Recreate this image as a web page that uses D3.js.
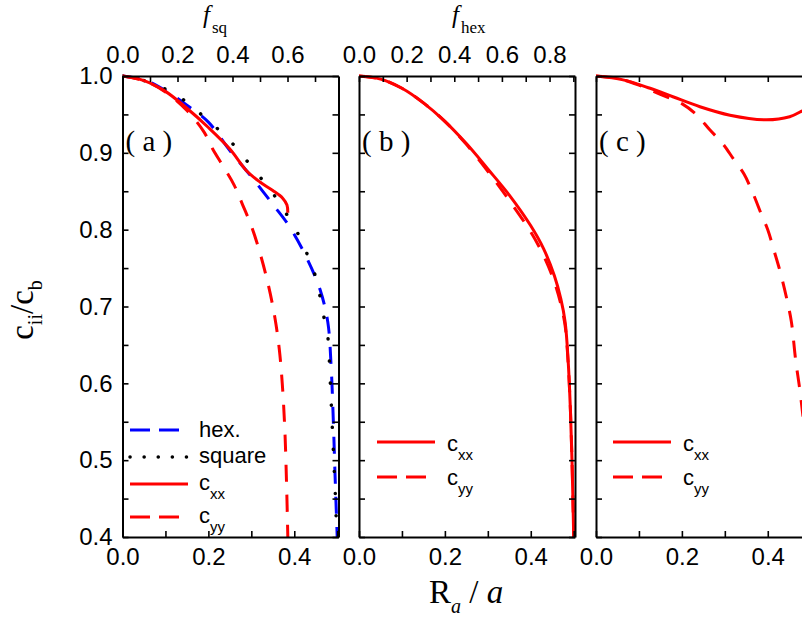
<!DOCTYPE html>
<html>
<head>
<meta charset="utf-8">
<script src="https://cdn.jsdelivr.net/npm/d3@7"></script>
<style>
  body { margin: 0; background: #fff; }
  .tick text { font-family: "Liberation Sans", Arial, sans-serif; font-size: 24px; fill: #000; }
  .serif { font-family: "Liberation Serif", "Times New Roman", serif; }
  .sans { font-family: "Liberation Sans", Arial, sans-serif; }
</style>
</head>
<body>
<div id="chart"></div>
<script>
// size of the picture and the three panels
var width = 802, height = 622;
var panelLeft = [122.5, 359, 596];
var panelWidth = 216;
var plotTop = 76, plotBottom = 537;

// axis ticks
var rTicks = [0, 0.1, 0.2, 0.3, 0.4, 0.5];
var yTicks = [0.4, 0.45, 0.5, 0.55, 0.6, 0.65, 0.7, 0.75, 0.8, 0.85, 0.9, 0.95, 1.0];
var fsqTicks = [0, 0.1, 0.2, 0.3, 0.4, 0.5, 0.6, 0.7];
var fhexTicks = [0, 0.1, 0.2, 0.3, 0.4, 0.5, 0.6, 0.7, 0.8, 0.9];

// panel (a): hexagonal and square lattice
var hexR = [0, 0.05, 0.1, 0.15, 0.2, 0.25, 0.3, 0.35, 0.39, 0.43, 0.46, 0.478, 0.486, 0.491, 0.495, 0.5];
var hexC = [1.0, 0.995, 0.981, 0.962, 0.940, 0.903, 0.869, 0.833, 0.803, 0.762, 0.722, 0.68, 0.62, 0.55, 0.48, 0.4];
var sqR = [0, 0.05, 0.1, 0.127, 0.166, 0.206, 0.245, 0.28, 0.315, 0.348, 0.373, 0.401, 0.42, 0.436, 0.45, 0.459, 0.466, 0.476, 0.48, 0.484, 0.488, 0.492, 0.496, 0.499];
var sqC = [1.0, 0.994, 0.983, 0.975, 0.958, 0.939, 0.919, 0.896, 0.872, 0.849, 0.828, 0.803, 0.781, 0.76, 0.738, 0.716, 0.693, 0.671, 0.647, 0.6, 0.55, 0.5, 0.45, 0.4];
var aXxR = [0, 0.05, 0.1, 0.15, 0.2, 0.25, 0.29, 0.32, 0.35, 0.373, 0.383, 0.385];
var aXxC = [1.0, 0.994, 0.980, 0.958, 0.933, 0.905, 0.876, 0.862, 0.851, 0.841, 0.832, 0.822];
var aYyR = [0, 0.05, 0.1, 0.15, 0.19, 0.21, 0.235, 0.26, 0.28, 0.3, 0.32, 0.34, 0.355, 0.365, 0.372, 0.378, 0.382, 0.385];
var aYyC = [1.0, 0.994, 0.979, 0.955, 0.927, 0.905, 0.882, 0.858, 0.832, 0.805, 0.77, 0.727, 0.685, 0.645, 0.6, 0.54, 0.47, 0.4];

// panel (b)
var bXxR = [0, 0.05, 0.1, 0.15, 0.2, 0.25, 0.3, 0.35, 0.4, 0.43, 0.455, 0.47, 0.48, 0.487, 0.492, 0.496, 0.5];
var bXxC = [1.0, 0.996, 0.984, 0.965, 0.941, 0.912, 0.879, 0.845, 0.805, 0.775, 0.74, 0.71, 0.68, 0.63, 0.57, 0.5, 0.4];
var bYyR = [0, 0.05, 0.1, 0.15, 0.2, 0.25, 0.3, 0.35, 0.4, 0.43, 0.455, 0.47, 0.48, 0.487, 0.492, 0.496, 0.5];
var bYyC = [1.0, 0.996, 0.984, 0.965, 0.941, 0.911, 0.876, 0.838, 0.797, 0.766, 0.732, 0.703, 0.675, 0.627, 0.57, 0.5, 0.4];

// panel (c)
var cXxR = [0, 0.063, 0.126, 0.179, 0.242, 0.312, 0.397, 0.451, 0.478, 0.5];
var cXxC = [1.0, 0.995, 0.984, 0.973, 0.960, 0.949, 0.943, 0.947, 0.954, 0.962];
var cYyR = [0, 0.05, 0.1, 0.15, 0.2, 0.235, 0.265, 0.295, 0.32, 0.345, 0.365, 0.385, 0.4, 0.415, 0.43, 0.445, 0.455, 0.465, 0.475, 0.485, 0.495, 0.5];
var cYyC = [1.0, 0.997, 0.988, 0.976, 0.964, 0.949, 0.930, 0.912, 0.892, 0.872, 0.848, 0.82, 0.80, 0.772, 0.743, 0.708, 0.68, 0.63, 0.59, 0.54, 0.46, 0.4];

var red = "#ff0000", blue = "#0000ff";
var solid = null, dashed = "17,13", dotted = "0.1,22";

function zip(xs, ys) { return xs.map(function (d, i) { return [d, ys[i]]; }); }

var svg = d3.select("#chart").append("svg")
    .attr("width", width).attr("height", height);

var y = d3.scaleLinear().domain([0.4, 1.0]).range([plotBottom, plotTop]);

var panels = [
  { label: "( a )", series: [
      { data: zip(hexR, hexC), color: blue, dash: dashed },
      { data: zip(sqR, sqC), color: "#000", dash: dotted, width: 3.5 },
      { data: zip(aXxR, aXxC), color: red, dash: solid },
      { data: zip(aYyR, aYyC), color: red, dash: dashed } ] },
  { label: "( b )", series: [
      { data: zip(bYyR, bYyC), color: red, dash: dashed },
      { data: zip(bXxR, bXxC), color: red, dash: solid } ] },
  { label: "( c )", series: [
      { data: zip(cYyR, cYyC), color: red, dash: dashed },
      { data: zip(cXxR, cXxC), color: red, dash: solid } ] }
];

function styleAxis(g) {
  g.select(".domain").attr("stroke", "#000").attr("stroke-width", 2);
  g.selectAll(".tick line").attr("stroke", "#000").attr("stroke-width", 1.6);
}

var fmt = d3.format(".1f");
function everyOther(d) { return Math.round(d * 10) % 2 === 0 ? fmt(d) : ""; }

panels.forEach(function (p, i) {
  var L = panelLeft[i];
  var x = d3.scaleLinear().domain([0, 0.503]).range([L, L + panelWidth]);

  svg.append("clipPath").attr("id", "clip" + i)
    .append("rect").attr("x", L).attr("y", plotTop - 2)
    .attr("width", panelWidth).attr("height", plotBottom - plotTop + 4);

  var line = d3.line()
      .x(function (d) { return x(d[0]); })
      .y(function (d) { return y(d[1]); })
      .curve(d3.curveCatmullRom.alpha(0.5));

  var g = svg.append("g").attr("clip-path", "url(#clip" + i + ")");
  p.series.forEach(function (s) {
    g.append("path")
      .attr("d", line(s.data))
      .attr("fill", "none")
      .attr("stroke", s.color)
      .attr("stroke-width", s.width || 3)
      .attr("stroke-linecap", s.dash === dotted ? "round" : "butt")
      .attr("stroke-dasharray", s.dash);
  });

  // bottom axis
  svg.append("g").attr("transform", "translate(0," + plotBottom + ")")
    .call(d3.axisBottom(x).tickValues(rTicks.filter(function (d) { return d <= 0.503; }))
      .tickSize(-6).tickSizeOuter(0).tickPadding(11).tickFormat(everyOther))
    .call(styleAxis);

  // top axis: f_sq, f_hex, or plain ticks
  var top;
  if (i === 0) {
    var fsq = d3.scaleLinear().domain([0, Math.PI / 4]).range([L, L + panelWidth]);
    top = d3.axisTop(fsq).tickValues(fsqTicks).tickFormat(everyOther);
  } else if (i === 1) {
    var fhex = d3.scaleLinear().domain([0, Math.PI / (2 * Math.sqrt(3))]).range([L, L + panelWidth]);
    top = d3.axisTop(fhex).tickValues(fhexTicks).tickFormat(everyOther);
  } else {
    top = d3.axisTop(x).tickValues(rTicks).tickFormat("");
  }
  svg.append("g").attr("transform", "translate(0," + plotTop + ")")
    .call(top.tickSize(-6).tickSizeOuter(0).tickPadding(13))
    .call(styleAxis);

  // left and right axes
  svg.append("g").attr("transform", "translate(" + L + ",0)")
    .call(d3.axisLeft(y).tickValues(yTicks).tickSize(-6).tickSizeOuter(0).tickPadding(10)
      .tickFormat(i === 0 ? function (d) { return Math.round(d * 100) % 10 === 0 ? fmt(d) : ""; } : ""))
    .call(styleAxis);
  svg.append("g").attr("transform", "translate(" + (L + panelWidth) + ",0)")
    .call(d3.axisRight(y).tickValues(yTicks).tickSize(-6).tickSizeOuter(0).tickFormat(""))
    .call(styleAxis);

  // panel label
  svg.append("text").attr("class", "serif")
    .attr("x", L + 3).attr("y", 151)
    .attr("font-size", 29).attr("xml:space", "preserve")
    .text(p.label);
});

// legends
function legendRow(x0, yLine, color, dash, lw, lineLen) {
  svg.append("line")
    .attr("x1", x0).attr("x2", x0 + lineLen)
    .attr("y1", yLine).attr("y2", yLine)
    .attr("stroke", color).attr("stroke-width", lw)
    .attr("stroke-linecap", dash === "0.1,14" ? "round" : "butt")
    .attr("stroke-dasharray", dash);
}
function legendText(x0, base, main, sub) {
  var t = svg.append("text").attr("class", "sans")
    .attr("x", x0).attr("y", base).attr("font-size", 22).text(main);
  if (sub) t.append("tspan").attr("font-size", 15).attr("dy", 9).text(sub);
}

legendRow(130, 430, blue, "20,9", 3, 58);
legendText(199, 437, "hex.");
legendRow(130, 457, "#000", "0.1,14", 3.5, 58);
legendText(199, 463, "square");
legendRow(130, 484, red, null, 3, 58);
legendText(199, 490, "c", "xx");
legendRow(130, 517, red, "20,9", 3, 58);
legendText(199, 523, "c", "yy");

[377, 613].forEach(function (x0) {
  legendRow(x0, 442, red, null, 3, 58);
  legendText(x0 + 70, 451, "c", "xx");
  legendRow(x0, 477, red, "20,9", 3, 58);
  legendText(x0 + 70, 485, "c", "yy");
});

// axis titles
function fTitle(x0, sub) {
  var t = svg.append("text").attr("class", "serif").attr("x", x0).attr("y", 23).attr("font-size", 25);
  t.append("tspan").attr("font-style", "italic").text("f");
  t.append("tspan").attr("font-size", 17).attr("dx", 2).attr("dy", 10).text(sub);
}
fTitle(203, "sq");
fTitle(452, "hex");

var xt = svg.append("text").attr("class", "serif")
  .attr("x", 429).attr("y", 603).attr("font-size", 33);
xt.append("tspan").text("R");
xt.append("tspan").attr("font-size", 20).attr("font-style", "italic").attr("dy", 10).text("a");
xt.append("tspan").attr("dy", -10).attr("xml:space", "preserve").text(" / ");
xt.append("tspan").attr("font-style", "italic").text("a");

var yt = svg.append("text").attr("class", "serif")
  .attr("transform", "translate(33,310) rotate(-90)")
  .attr("text-anchor", "middle").attr("font-size", 33);
yt.append("tspan").text("c");
yt.append("tspan").attr("font-size", 20).attr("dy", 9).text("ii");
yt.append("tspan").attr("dy", -9).text("/c");
yt.append("tspan").attr("font-size", 20).attr("dy", 9).text("b");
</script>
</body>
</html>
